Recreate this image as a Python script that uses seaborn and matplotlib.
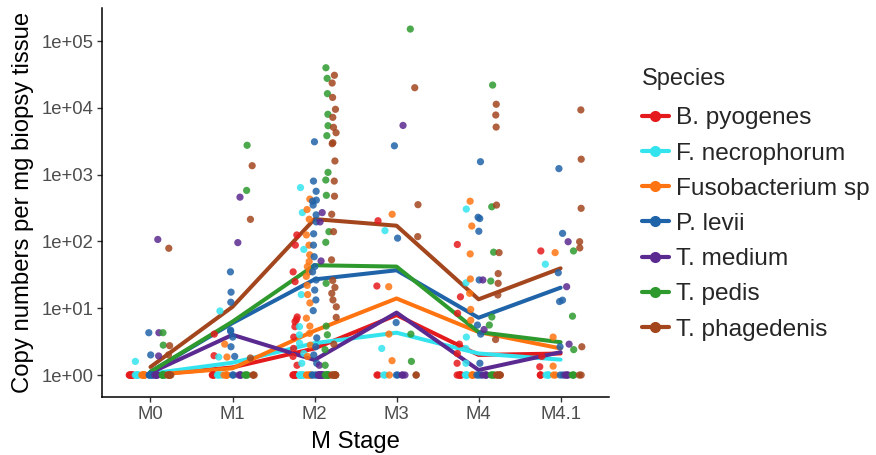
import numpy as np
import pandas as pd
import matplotlib
matplotlib.use("Agg")
import matplotlib.pyplot as plt
from matplotlib.lines import Line2D
from matplotlib.ticker import NullLocator
import seaborn as sns

sns.set_style("ticks")
plt.rcParams["font.family"] = ["Liberation Sans", "DejaVu Sans"]

# === DATA ===

stages = ["M0", "M1", "M2", "M3", "M4", "M4.1"]
species = ["B. pyogenes", "F. necrophorum", "Fusobacterium sp", "P. levii",
           "T. medium", "T. pedis", "T. phagedenis"]
colors = ["#E41A1C", "#33E4EE", "#FF7410", "#1F63A8",
          "#5B2A90", "#2E9A2E", "#A3461E"]

y_ticks = [1, 10, 100, 1000, 10000, 100000]
y_tick_labels = ["1e+00", "1e+01", "1e+02", "1e+03", "1e+04", "1e+05"]

# copy numbers above the detection floor, per stage
b_pyogenes = {
    "M0": [],
    "M1": [4.1, 1.95],
    "M2": [125, 88, 35, 25, 7.4, 6.8, 6.3, 5.3, 3.7, 2.5, 1.9, 1.4],
    "M3": [204, 21.5],
    "M4": [90, 14.8, 8.4, 2.9, 2.1, 1.5],
    "M4.1": [72, 1.9, 1.33],
}
f_necrophorum = {
    "M0": [1.6],
    "M1": [9.1, 1.86],
    "M2": [640, 270, 76, 16, 5.3, 4.0, 3.0, 2.1, 1.5],
    "M3": [145, 2.5],
    "M4": [305, 24, 3.7, 2.5, 1.5],
    "M4.1": [45.6],
}
fusobacterium_sp = {
    "M0": [],
    "M1": [2.9, 1.86],
    "M2": [430, 300, 215, 125, 88, 63, 50, 42, 35, 30, 22, 16, 12, 7.1,
           5.4, 4.2, 2.8, 1.9],
    "M3": [255, 21, 4.1, 1.64],
    "M4": [400, 170, 65, 27.4, 16.7, 9.6, 6.6],
    "M4.1": [68, 3.7, 1.36],
}
p_levii = {
    "M0": [4.3, 2.0],
    "M1": [35, 17.4, 12.3, 4.7, 4.5, 3.7, 2.65, 1.9],
    "M2": [3100, 800, 563, 415, 400, 350, 250, 196, 130, 88, 59, 42, 35,
           26.5, 18.7, 13.3, 9.2, 3.6, 2.65, 2.0, 1.5],
    "M3": [2700, 112, 6.1],
    "M4": [1560, 230, 220, 142, 26.5, 5.6, 4.1, 1.5],
    "M4.1": [1230, 132, 34, 13.2, 12.6, 2.65],
}
t_medium = {
    "M0": [107, 4.3, 1.93],
    "M1": [460, 96],
    "M2": [270, 196, 51, 1.4],
    "M3": [5450],
    "M4": [26.5, 4.8],
    "M4.1": [99, 21, 2.9],
}
t_pedis = {
    "M0": [4.3, 2.8],
    "M1": [2750, 580],
    "M2": [39800, 27600, 16300, 8000, 5400, 3830, 1080, 830, 490, 140, 97,
           23.6, 5.4, 4.0, 2.4, 1.4],
    "M3": [151000, 4.1, 1.6],
    "M4": [21900, 330, 69, 25.5, 7.4, 5.6],
    "M4.1": [72, 7.6, 2.4],
}
t_phagedenis = {
    "M0": [79, 2.75, 2.0],
    "M1": [1360, 214, 1.8],
    "M2": [30700, 23500, 14300, 9500, 7200, 5100, 4240, 3000, 2900, 1600,
           800, 475, 255, 140, 53, 26, 20.5, 16.7, 13.3, 10.5, 7.3, 2.9],
    "M3": [20000, 355, 118],
    "M4": [11300, 7800, 5150, 350, 68, 33, 23.6, 15.8, 3.4],
    "M4.1": [9300, 1700, 313, 99, 80, 2.65],
}

# samples sitting on the 1e+00 floor (M0, M1, M2, M3, M4, M4.1)
floor_counts = {
    "B. pyogenes":      [8, 4, 8, 2, 6, 3],
    "F. necrophorum":   [6, 4, 7, 2, 4, 4],
    "Fusobacterium sp": [8, 5, 5, 1, 4, 2],
    "P. levii":         [6, 2, 4, 2, 3, 2],
    "T. medium":        [6, 4, 12, 3, 4, 4],
    "T. pedis":         [6, 4, 10, 0, 4, 3],
    "T. phagedenis":    [6, 3, 8, 2, 6, 2],
}

# summary line per species across stages
line_b_pyogenes = [1.0, 1.3, 2.5, 7.9, 2.0, 2.1]
line_f_necrophorum = [1.05, 1.53, 3.0, 4.3, 2.1, 1.7]
line_fusobacterium_sp = [1.0, 1.26, 4.6, 14.0, 4.4, 2.5]
line_p_levii = [1.12, 6.0, 27, 37, 7.2, 20.3]
line_t_medium = [1.08, 4.0, 1.68, 8.6, 1.19, 2.2]
line_t_pedis = [1.12, 6.3, 44, 42, 4.4, 3.1]
line_t_phagedenis = [1.32, 10.5, 216, 172, 13.6, 39.6]

# === BUILD TABLES ===

detected = [b_pyogenes, f_necrophorum, fusobacterium_sp, p_levii,
            t_medium, t_pedis, t_phagedenis]
lines = [line_b_pyogenes, line_f_necrophorum, line_fusobacterium_sp,
         line_p_levii, line_t_medium, line_t_pedis, line_t_phagedenis]

rows = []
for sp, det in zip(species, detected):
    for i, st in enumerate(stages):
        for v in det[st]:
            rows.append((st, sp, v))
        for _ in range(floor_counts[sp][i]):
            rows.append((st, sp, 1.0))
points = pd.DataFrame(rows, columns=["stage", "species", "copies"])

line_rows = []
for sp, vals in zip(species, lines):
    for st, v in zip(stages, vals):
        line_rows.append((st, sp, v))
line_df = pd.DataFrame(line_rows, columns=["stage", "species", "copies"])

# === PLOT ===

np.random.seed(3)
fig = plt.figure(figsize=(8.76, 4.55), dpi=100)
ax = fig.add_axes([102 / 876, 1 - 397 / 455, 507 / 876, 389 / 455])
ax.set_yscale("log")

sns.stripplot(data=points, x="stage", y="copies", hue="species",
              order=stages, hue_order=species, palette=colors,
              dodge=True, jitter=0.3, size=5.2, alpha=0.85,
              linewidth=0, legend=False, ax=ax)

# narrow the dodge a bit (ggplot used a tighter dodge width)
for coll in ax.collections:
    off = np.asarray(coll.get_offsets(), dtype=float).copy()
    if len(off) == 0:
        continue
    centre = np.round(off[:, 0])
    off[:, 0] = centre + (off[:, 0] - centre) * 0.69
    coll.set_offsets(off)

sns.lineplot(data=line_df, x="stage", y="copies", hue="species",
             hue_order=species, palette=colors, lw=2.9, sort=False,
             legend=False, ax=ax)

ax.set_xlim(-0.591, 5.59)
ax.set_ylim(0.469, 3.12e5)
ax.set_yticks(y_ticks)
ax.set_yticklabels(y_tick_labels)
ax.yaxis.set_minor_locator(NullLocator())

sns.despine(ax=ax)
for side in ["left", "bottom"]:
    ax.spines[side].set_color("black")
    ax.spines[side].set_linewidth(1.1)
ax.tick_params(axis="both", length=3.3, width=1.0, color="#333333",
               labelcolor="#4D4D4D", labelsize=13.3, pad=3)

ax.set_xlabel("M Stage", fontsize=17.2, color="black", labelpad=6)
ax.set_ylabel("Copy numbers per mg biopsy tissue", fontsize=17.2,
              color="black", labelpad=5)

handles = [Line2D([0], [0], color=c, lw=3, marker="o", markersize=8,
                  markeredgewidth=0) for c in colors]
leg = fig.legend(handles, species, title="Species", loc="upper left",
                 bbox_to_anchor=(642 / 876, 1 - 68 / 455), frameon=False,
                 fontsize=17.6, title_fontsize=17, handlelength=1.1,
                 handletextpad=0.3, labelspacing=0.535, alignment="left",
                 borderpad=0, borderaxespad=0)
leg._legend_box.sep = 12.5

fig.savefig("out.png", dpi=100)
